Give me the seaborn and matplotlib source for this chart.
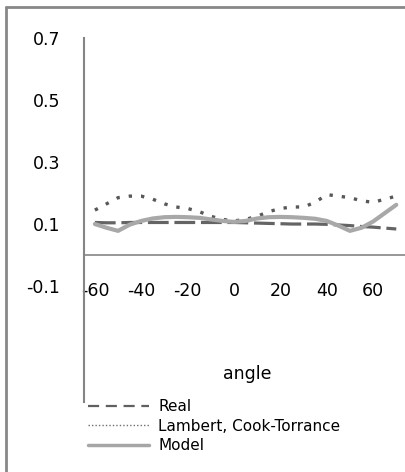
import matplotlib
matplotlib.use("Agg")
import matplotlib.pyplot as plt
from matplotlib.lines import Line2D
import seaborn as sns
import pandas as pd

angles = [-60, -55, -50, -45, -40, -35, -30, -25, -20, -15, -10, -5, 0, 5,
          10, 15, 20, 25, 30, 35, 40, 45, 50, 55, 60, 65, 70]
real = [0.105, 0.104, 0.104, 0.105, 0.105, 0.105, 0.105, 0.105, 0.105, 0.105,
        0.105, 0.105, 0.105, 0.104, 0.103, 0.102, 0.101, 0.100, 0.100, 0.100,
        0.099, 0.097, 0.095, 0.092, 0.090, 0.087, 0.084]
lambert = [0.145, 0.165, 0.185, 0.190, 0.190, 0.180, 0.165, 0.155, 0.150, 0.140,
           0.125, 0.115, 0.110, 0.115, 0.125, 0.140, 0.150, 0.155, 0.155, 0.170,
           0.195, 0.190, 0.185, 0.175, 0.170, 0.180, 0.190]
model = [0.100, 0.088, 0.078, 0.098, 0.110, 0.118, 0.122, 0.123, 0.122, 0.120,
         0.115, 0.110, 0.107, 0.110, 0.118, 0.122, 0.123, 0.122, 0.120, 0.117,
         0.110, 0.095, 0.078, 0.088, 0.108, 0.135, 0.162]
ytick_vals = [-0.1, 0.1, 0.3, 0.5, 0.7]
xtick_vals = [-60, -40, -20, 0, 20, 40, 60]
series_names = ["Real", "Lambert, Cook-Torrance", "Model"]

df = pd.DataFrame({"angle": angles, "Real": real,
                   "Lambert, Cook-Torrance": lambert, "Model": model})

sns.set_style("white")
plt.rcParams['font.family'] = ['DejaVu Sans']
plt.rcParams['text.color'] = 'black'

W, H = 406, 472
fig = plt.figure(figsize=(W / 100, H / 100), dpi=100)
ax = fig.add_axes([84 / W, (H - 402) / H, (W - 84) / W, (402 - 38) / H])

sns.lineplot(data=df, x="angle", y="Real", ax=ax, color="#646464",
             linewidth=2.3, linestyle=(0, (6.5, 1.8)), label=series_names[0])
sns.lineplot(data=df, x="angle", y="Lambert, Cook-Torrance", ax=ax, color="#585858",
             linewidth=2.4, linestyle=(0, (1.0, 2.7)), label=series_names[1])
sns.lineplot(data=df, x="angle", y="Model", ax=ax, color="#a8a8a8",
             linewidth=3.0, linestyle="-", label=series_names[2])

ax.set_xlim(-64.7, 74.2)
ax.set_ylim(-0.474, 0.7)
ax.axhline(0, color="#858585", linewidth=1.2)

for s in ["top", "right"]:
    ax.spines[s].set_visible(False)
ax.spines["left"].set_color("#858585")
ax.spines["left"].set_linewidth(1.5)
ax.spines["bottom"].set_visible(False)
ax.spines["bottom"].set_position(("data", -0.084))

ax.set_yticks(ytick_vals)
ax.set_yticklabels([f"{v:.1f}" for v in ytick_vals])
ax.set_xticks(xtick_vals)
ax.set_xticklabels([str(v) for v in xtick_vals])
ax.tick_params(axis="y", length=0, pad=17, labelsize=12.5, colors="#000000")
ax.tick_params(axis="x", length=0, pad=1, labelsize=12.5, colors="#000000")

ax.set_ylabel("")
ax.set_xlabel("angle", fontsize=12.5, color="black")
ax.xaxis.set_label_coords(0.506, 0.102)
ax.xaxis.label.set_va("top")

ax.get_legend().remove()
handles = [Line2D([], [], color="#606060", linewidth=1.6, linestyle=(0, (5, 3))),
           Line2D([], [], color="#707070", linewidth=1.0, linestyle=(0, (1, 1.5))),
           Line2D([], [], color="#a6a6a6", linewidth=2.5, linestyle="-")]
leg = fig.legend(handles, series_names, loc="upper left",
                 bbox_to_anchor=(88 / W, (H - 399) / H), frameon=False,
                 borderpad=0, borderaxespad=0, handlelength=4.0, handletextpad=0.6,
                 labelspacing=0.3, fontsize=11)
for t in leg.get_texts():
    t.set_color("black")

fig.add_artist(Line2D([6 / W, 6 / W], [0, (H - 7) / H], color="#888888",
                      linewidth=2, transform=fig.transFigure))
fig.add_artist(Line2D([6 / W, 1], [(H - 7) / H, (H - 7) / H], color="#888888",
                      linewidth=2, transform=fig.transFigure))

fig.savefig("out.png", dpi=100)
